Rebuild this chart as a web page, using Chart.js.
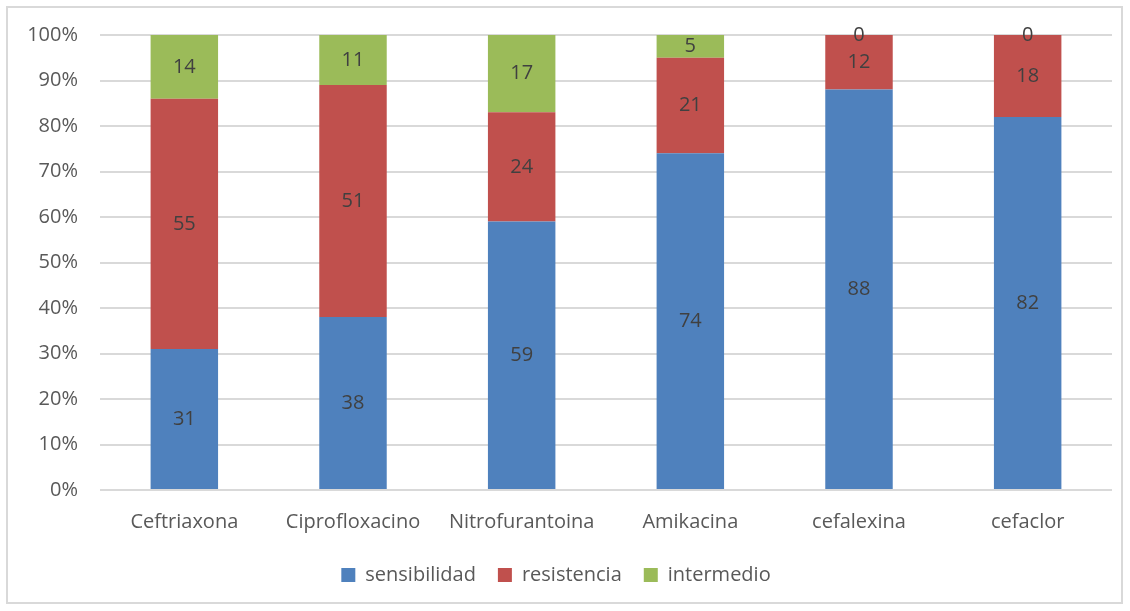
<!DOCTYPE html>
<html>
<head>
<meta charset="utf-8">
<script src="https://cdn.jsdelivr.net/npm/chart.js@4/dist/chart.umd.min.js"></script>
<style>
  html, body { margin: 0; padding: 0; background: #fff; }
  #wrap { position: relative; width: 1130px; height: 611px; }
  #frame { position: absolute; left: 6px; top: 6px; width: 1117px; height: 598px; border: 2px solid #d9d9d9; box-sizing: border-box; pointer-events: none; }
  canvas { display: block; }
</style>
</head>
<body>
<div id="wrap">
  <canvas id="chart" width="1130" height="611"></canvas>
  <div id="frame"></div>
</div>
<script>
// Data
const categories = ['Ceftriaxona', 'Ciprofloxacino', 'Nitrofurantoina', 'Amikacina', 'cefalexina', 'cefaclor'];
const sensibilidad = [31, 38, 59, 74, 88, 82];
const resistencia = [55, 51, 24, 21, 12, 18];
const intermedio = [14, 11, 17, 5, 0, 0];
const yTicks = [0, 10, 20, 30, 40, 50, 60, 70, 80, 90, 100];

const FONT = "'Open Sans', sans-serif";

// draws the value in the middle of every segment
const segmentLabels = {
    id: 'segmentLabels',
    afterDatasetsDraw(chart) {
        const ctx = chart.ctx;
        ctx.save();
        ctx.font = `20px ${FONT}`;
        ctx.fillStyle = '#404040';
        ctx.textAlign = 'center';
        ctx.textBaseline = 'middle';
        chart.data.datasets.forEach((ds, i) => {
            chart.getDatasetMeta(i).data.forEach((bar, j) => {
                const mid = (bar.y + bar.base) / 2;
                ctx.fillText(String(ds.data[j]), bar.x, mid);
            });
        });
        ctx.restore();
    }
};

const ctx = document.getElementById('chart').getContext('2d');
const chart = new Chart(ctx, {
    type: 'bar',
    data: {
        labels: categories,
        datasets: [
            { label: 'sensibilidad', data: sensibilidad, backgroundColor: '#4f81bd' },
            { label: 'resistencia', data: resistencia, backgroundColor: '#c0504d' },
            { label: 'intermedio', data: intermedio, backgroundColor: '#9bbb59' }
        ]
    },
    options: {
        responsive: false,
        animation: false,
        layout: { padding: { left: 0, right: 18, top: 35, bottom: 16 } },
        datasets: { bar: { categoryPercentage: 1, barPercentage: 0.4 } },
        scales: {
            x: {
                stacked: true,
                grid: { display: false },
                border: { display: false },
                ticks: { color: '#595959', font: { family: FONT, size: 20 }, padding: 12 },
                afterFit(scale) { scale.height = 53; }
            },
            y: {
                stacked: true,
                min: 0,
                max: 100,
                afterBuildTicks(scale) { scale.ticks = yTicks.map(v => ({ value: v })); },
                grid: { color: '#d9d9d9', lineWidth: 2, drawTicks: false },
                border: { display: false },
                ticks: {
                    color: '#595959',
                    font: { family: FONT, size: 20 },
                    padding: 22,
                    callback: v => v + '%'
                },
                afterFit(scale) { scale.width = 100; }
            }
        },
        plugins: {
            legend: {
                position: 'bottom',
                labels: {
                    color: '#595959',
                    font: { family: FONT, size: 20 },
                    boxWidth: 14,
                    boxHeight: 14,
                    padding: 22
                }
            },
            tooltip: { enabled: false }
        }
    },
    plugins: [segmentLabels]
});
</script>
</body>
</html>
